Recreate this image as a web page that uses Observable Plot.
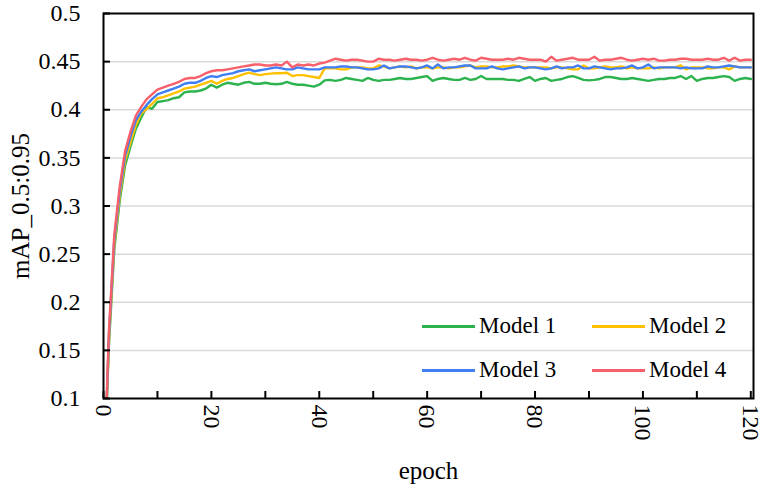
<!DOCTYPE html>
<html><head><meta charset="utf-8">
<script src="https://cdn.jsdelivr.net/npm/d3@7"></script>
<script src="https://cdn.jsdelivr.net/npm/@observablehq/plot@0.6"></script>
<style>
body{margin:0;background:#fff;}
#wrap{position:relative;width:767px;height:488px;font-family:"Liberation Serif","DejaVu Serif","Times New Roman",serif;}
.leg{position:absolute;display:flex;align-items:center;font-size:23px;color:#000;transform:translateY(-50%);white-space:nowrap;}
.leg .sw{display:inline-block;width:53px;height:3px;margin-right:4px;}
</style></head><body><div id="wrap"></div>
<script>
const epochs = d3.range(0, 121);
const model1 = [
0, 0.155, 0.255, 0.305, 0.342, 0.362, 0.380, 0.392, 0.403, 0.401, 0.408,
0.409, 0.410, 0.412, 0.413, 0.418, 0.419, 0.419, 0.420, 0.422, 0.426,
0.423, 0.426, 0.428, 0.427, 0.426, 0.428, 0.429, 0.427, 0.427, 0.428,
0.427, 0.4265, 0.427, 0.429, 0.427, 0.426, 0.426, 0.425, 0.424, 0.426,
0.4305, 0.431, 0.430, 0.431, 0.433, 0.432, 0.431, 0.430, 0.433, 0.431,
0.430, 0.431, 0.431, 0.432, 0.433, 0.432, 0.432, 0.433, 0.434, 0.435,
0.430, 0.432, 0.433, 0.432, 0.431, 0.431, 0.433, 0.431, 0.432, 0.435,
0.432, 0.432, 0.432, 0.432, 0.431, 0.431, 0.430, 0.432, 0.434, 0.430,
0.432, 0.433, 0.430, 0.431, 0.432, 0.434, 0.435, 0.433, 0.431, 0.4305,
0.431, 0.432, 0.434, 0.434, 0.433, 0.432, 0.432, 0.433, 0.432, 0.431,
0.430, 0.431, 0.432, 0.432, 0.433, 0.433, 0.435, 0.432, 0.435, 0.430,
0.432, 0.433, 0.433, 0.434, 0.435, 0.434, 0.430, 0.432, 0.433, 0.432
];
const model2 = [
0, 0.160, 0.260, 0.310, 0.347, 0.366, 0.384, 0.396, 0.401, 0.406, 0.412,
0.413, 0.415, 0.417, 0.419, 0.422, 0.423, 0.424, 0.426, 0.428, 0.430,
0.427, 0.430, 0.432, 0.433, 0.435, 0.437, 0.4385, 0.437, 0.436, 0.437,
0.4375, 0.438, 0.438, 0.4385, 0.435, 0.436, 0.436, 0.435, 0.434, 0.433,
0.443, 0.443, 0.443, 0.442, 0.442, 0.444, 0.444, 0.444, 0.443, 0.443,
0.446, 0.445, 0.443, 0.444, 0.445, 0.444, 0.445, 0.443, 0.444, 0.444,
0.443, 0.444, 0.444, 0.443, 0.444, 0.444, 0.445, 0.446, 0.444, 0.445,
0.445, 0.444, 0.444, 0.445, 0.445, 0.446, 0.445, 0.444, 0.444, 0.444,
0.444, 0.444, 0.443, 0.444, 0.444, 0.443, 0.442, 0.442, 0.446, 0.443,
0.443, 0.444, 0.445, 0.444, 0.444, 0.445, 0.443, 0.444, 0.443, 0.443,
0.443, 0.444, 0.443, 0.444, 0.444, 0.444, 0.446, 0.442, 0.444, 0.444,
0.444, 0.443, 0.443, 0.444, 0.444, 0.442, 0.445, 0.444, 0.444, 0.444
];
const model3 = [
0, 0.165, 0.265, 0.315, 0.352, 0.372, 0.389, 0.398, 0.405, 0.411, 0.416,
0.418, 0.420, 0.422, 0.424, 0.427, 0.428, 0.428, 0.430, 0.433, 0.435,
0.434, 0.436, 0.437, 0.438, 0.440, 0.441, 0.442, 0.440, 0.441, 0.442,
0.443, 0.444, 0.443, 0.442, 0.442, 0.444, 0.443, 0.442, 0.442, 0.442,
0.444, 0.444, 0.444, 0.445, 0.445, 0.444, 0.444, 0.443, 0.442, 0.442,
0.443, 0.446, 0.443, 0.444, 0.445, 0.445, 0.444, 0.443, 0.444, 0.446,
0.443, 0.447, 0.443, 0.444, 0.444, 0.445, 0.446, 0.446, 0.443, 0.443,
0.443, 0.445, 0.443, 0.442, 0.443, 0.444, 0.445, 0.443, 0.444, 0.444,
0.443, 0.442, 0.443, 0.445, 0.443, 0.444, 0.444, 0.446, 0.443, 0.443,
0.445, 0.444, 0.443, 0.442, 0.443, 0.443, 0.444, 0.446, 0.443, 0.444,
0.447, 0.443, 0.444, 0.444, 0.444, 0.444, 0.443, 0.444, 0.443, 0.443,
0.443, 0.445, 0.444, 0.444, 0.445, 0.446, 0.445, 0.444, 0.444, 0.444
];
const model4 = [
0, 0.170, 0.270, 0.320, 0.357, 0.377, 0.394, 0.403, 0.411, 0.416, 0.421,
0.423, 0.425, 0.427, 0.429, 0.432, 0.433, 0.433, 0.435, 0.438, 0.440,
0.441, 0.441, 0.442, 0.443, 0.444, 0.445, 0.446, 0.447, 0.447, 0.446,
0.446, 0.447, 0.446, 0.450, 0.444, 0.447, 0.446, 0.447, 0.446, 0.448,
0.449, 0.451, 0.453, 0.452, 0.451, 0.452, 0.452, 0.451, 0.450, 0.450,
0.453, 0.452, 0.452, 0.451, 0.452, 0.453, 0.452, 0.452, 0.451, 0.452,
0.454, 0.452, 0.451, 0.452, 0.453, 0.452, 0.454, 0.452, 0.451, 0.454,
0.453, 0.452, 0.452, 0.452, 0.453, 0.452, 0.454, 0.453, 0.452, 0.452,
0.452, 0.450, 0.455, 0.451, 0.452, 0.453, 0.454, 0.452, 0.452, 0.452,
0.455, 0.451, 0.452, 0.452, 0.453, 0.454, 0.452, 0.451, 0.452, 0.453,
0.452, 0.453, 0.451, 0.451, 0.452, 0.452, 0.453, 0.453, 0.452, 0.452,
0.452, 0.453, 0.452, 0.452, 0.454, 0.451, 0.454, 0.451, 0.452, 0.452
];
const seriesNames = ["Model 1", "Model 2", "Model 3", "Model 4"];
const seriesColors = ["#2DB34E", "#FFC000", "#3F7EF3", "#F7606B"];
const xTicksMinor = [0, 10, 20, 30, 40, 50, 60, 70, 80, 90, 100, 110, 120];
const xTickLabels = [0, 20, 40, 60, 80, 100, 120];
const yTicks = [0.1, 0.15, 0.2, 0.25, 0.3, 0.35, 0.4, 0.45, 0.5];
const xLabel = "epoch";
const yLabel = "mAP_0.5:0.95";

const allSeries = [model1, model2, model3, model4];
const data = [];
allSeries.forEach((vals, i) => vals.forEach((v, j) => data.push({epoch: epochs[j], value: v, model: seriesNames[i]})));

const fmtY = d => String(+d.toFixed(2));

const chart = Plot.plot({
  width: 767, height: 488,
  marginLeft: 103, marginRight: 14, marginTop: 13, marginBottom: 90,
  style: {fontFamily: "'Liberation Serif', 'DejaVu Serif', 'Times New Roman', serif", fontSize: "24px", color: "#000", background: "#fff"},
  x: {domain: [0, 120.5]},
  y: {domain: [0.1, 0.5]},
  color: {domain: seriesNames, range: seriesColors},
  marks: [
    Plot.gridY(yTicks.slice(1, -1), {stroke: "#d9d9d9", strokeOpacity: 1, strokeWidth: 1.5}),
    Plot.line(data, {x: "epoch", y: "value", stroke: "model", z: "model", strokeWidth: 2.4, clip: true}),
    Plot.frame({stroke: "#000", strokeWidth: 2}),
    Plot.axisY(yTicks, {tickSize: -7, tickFormat: () => "", strokeWidth: 2, fontSize: 25, label: yLabel, labelAnchor: "center", labelOffset: 92, labelArrow: "none"}),
    Plot.axisY(yTicks, {tickSize: 0, tickPadding: 23, tickFormat: fmtY, fontSize: 24, label: null}),
    Plot.axisX(xTicksMinor, {tickSize: -7, tickFormat: () => "", strokeWidth: 2, fontSize: 25, label: xLabel, labelAnchor: "center", labelOffset: 80, labelArrow: "none"}),
    Plot.axisX(xTickLabels, {tickSize: 0, tickPadding: 6, tickRotate: 90, tickFormat: d => String(d), fontSize: 24, label: null})
  ]
});
const wrap = document.getElementById("wrap");
wrap.appendChild(chart);

const legendPos = [[422, 326], [592, 326], [422, 370], [592, 370]];
seriesNames.forEach((name, i) => {
  const d = document.createElement("div");
  d.className = "leg";
  d.style.left = legendPos[i][0] + "px";
  d.style.top = legendPos[i][1] + "px";
  const sw = document.createElement("span");
  sw.className = "sw";
  sw.style.background = seriesColors[i];
  d.appendChild(sw);
  d.appendChild(document.createTextNode(name));
  wrap.appendChild(d);
});
</script></body></html>
